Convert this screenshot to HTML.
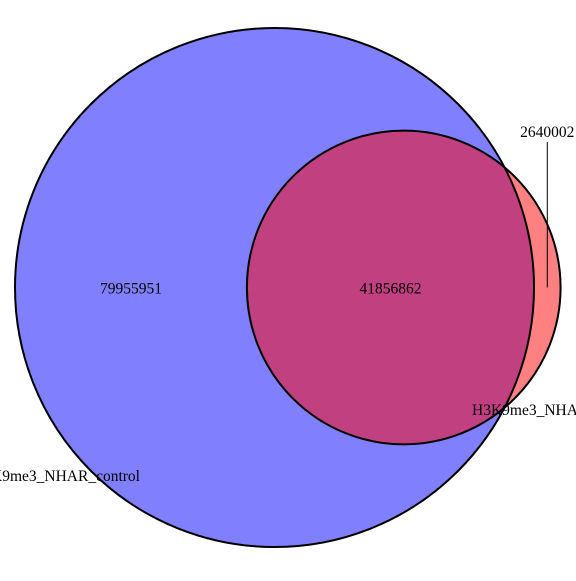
<!DOCTYPE html>
<html><head><meta charset="utf-8"><style>
html,body{margin:0;padding:0;background:#fff;}
svg text{font-family:"Liberation Serif",serif;font-size:15.5px;fill:#000;}
</style></head><body>
<svg id="chart" width="576" height="576" viewBox="0 0 576 576" xmlns="http://www.w3.org/2000/svg"></svg>
<script>
const setNames = ["H3K9me3_NHAR_control", "H3K9me3_NHAR"];
const regionValues = [79955951, 41856862, 2640002]; // A only, A∩B, B only
const regionLabels = ["79955951", "41856862", "2640002"];

const NS = "http://www.w3.org/2000/svg";
const svg = document.getElementById("chart");
const totalA = regionValues[0] + regionValues[1];
const totalB = regionValues[1] + regionValues[2];
const k = 259.5 / Math.sqrt(121812813);
const r1 = k * Math.sqrt(totalA), r2 = k * Math.sqrt(totalB);
function lens(d){
  if (d >= r1 + r2) return 0;
  if (d <= Math.abs(r1 - r2)) return Math.PI * Math.min(r1, r2) ** 2;
  const a = r1*r1*Math.acos((d*d+r1*r1-r2*r2)/(2*d*r1));
  const b = r2*r2*Math.acos((d*d+r2*r2-r1*r1)/(2*d*r2));
  const c = 0.5*Math.sqrt((-d+r1+r2)*(d+r1-r2)*(d-r1+r2)*(d+r1+r2));
  return a + b - c;
}
const targetArea = Math.PI * k * k * regionValues[1];
let lo = Math.abs(r1 - r2), hi = r1 + r2;
for (let i = 0; i < 100; i++) { const m = (lo + hi) / 2; if (lens(m) > targetArea) lo = m; else hi = m; }
const d = (lo + hi) / 2;
const cy = 287.5, c1x = 274.5, c2x = c1x + d;

function mk(tag, attrs){ const e = document.createElementNS(NS, tag); for (const a in attrs) e.setAttribute(a, attrs[a]); svg.appendChild(e); return e; }

const defs = mk("defs", {});
const cp = document.createElementNS(NS, "clipPath"); cp.setAttribute("id", "clipA"); defs.appendChild(cp);
const cpc = document.createElementNS(NS, "circle"); cpc.setAttribute("cx", c1x); cpc.setAttribute("cy", cy); cpc.setAttribute("r", r1); cp.appendChild(cpc);

const cA = mk("circle", {cx: c1x, cy: cy, r: r1, fill: "#8080ff", stroke: "none"});


const cB = mk("circle", {cx: c2x, cy: cy, r: r2, fill: "#ff8080", stroke: "none"});


const ov = mk("circle", {cx: c2x, cy: cy, r: r2, fill: "#c04080", "clip-path": "url(#clipA)"});


const oA = mk("circle", {cx: c1x, cy: cy, r: r1, fill: "none", stroke: "#000", "stroke-width": 2});


const oB = mk("circle", {cx: c2x, cy: cy, r: r2, fill: "none", stroke: "#000", "stroke-width": 2});



const aLeft = c1x - r1, aRight = c1x + r1, bLeft = c2x - r2, bRight = c2x + r2;
const t1 = mk("text", {x: (aLeft + bLeft) / 2, y: cy + 6, "text-anchor": "middle"}); t1.textContent = regionLabels[0];


const t2 = mk("text", {x: (bLeft + aRight) / 2, y: cy + 6, "text-anchor": "middle"}); t2.textContent = regionLabels[1];


const bx = (aRight + bRight) / 2;
const ln = mk("line", {x1: bx, y1: 142, x2: bx, y2: cy, stroke: "#000", "stroke-width": 1});


const t3 = mk("text", {x: bx, y: 137, "text-anchor": "middle"}); t3.textContent = regionLabels[2];


const n1 = mk("text", {x: 140, y: 481, "text-anchor": "end"}); n1.textContent = setNames[0];


const n2 = mk("text", {x: 472, y: 415, "text-anchor": "start"}); n2.textContent = setNames[1];


</script>
</body></html>
